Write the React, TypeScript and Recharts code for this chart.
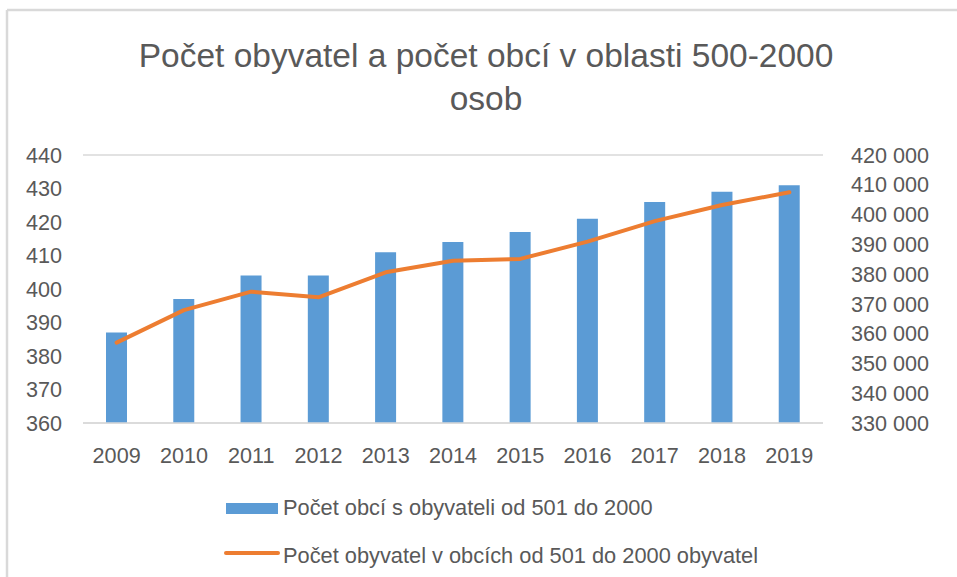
import React from 'react';
import { ComposedChart, Bar, Line, XAxis, YAxis, CartesianGrid } from 'recharts';

const years = ['2009', '2010', '2011', '2012', '2013', '2014', '2015', '2016', '2017', '2018', '2019'];
const municipalities = [387, 397, 404, 404, 411, 414, 417, 421, 426, 429, 431];
const inhabitants = [357000, 367900, 374100, 372200, 380600, 384500, 385100, 390900, 397800, 403200, 407500];
const leftTicks = [360, 370, 380, 390, 400, 410, 420, 430, 440];
const rightTicks = [330000, 340000, 350000, 360000, 370000, 380000, 390000, 400000, 410000, 420000];

const titleLines = ['Počet obyvatel a počet obcí v oblasti 500-2000', 'osob'];
const barName = 'Počet obcí s obyvateli od 501 do 2000';
const lineName = 'Počet obyvatel v obcích od 501 do 2000 obyvatel';

const data = years.map((y, i) => ({ year: y, obce: municipalities[i], obyv: inhabitants[i] }));

const FONT = '"Liberation Sans", Arial, sans-serif';
const TXT = '#595959';
const BLUE = '#5b9bd5';
const ORANGE = '#ed7d31';

const fmt = (v: number) => String(v).replace(/\B(?=(\d{3})+(?!\d))/g, ' ');

export default function App() {
  return (
    <div style={{ position: 'absolute', left: 0, top: 0, width: 957, height: 577, background: '#fff', overflow: 'hidden' }}>
      <ComposedChart
        width={957}
        height={577}
        data={data}
        margin={{ top: 155, right: 0, bottom: 124, left: 0 }}
        style={{ fontFamily: FONT }}
      >
        <CartesianGrid vertical={false} stroke="#d9d9d9" strokeWidth={1.5} />
        <XAxis
          dataKey="year"
          height={30}
          tickLine={false}
          axisLine={{ stroke: '#d9d9d9', strokeWidth: 1.5 }}
          tickSize={0}
          tickMargin={25}
          tick={{ fill: TXT, fontSize: 21.6 }}
          interval={0}
        />
        <YAxis
          yAxisId="left"
          orientation="left"
          width={83}
          domain={[360, 440]}
          ticks={leftTicks}
          tickLine={false}
          axisLine={false}
          tickSize={0}
          tickMargin={21}
          tick={{ fill: TXT, fontSize: 21.6 }}
          interval={0}
        />
        <YAxis
          yAxisId="right"
          orientation="right"
          width={134}
          domain={[330000, 420000]}
          ticks={rightTicks}
          tickFormatter={fmt}
          tickLine={false}
          axisLine={false}
          tickSize={0}
          tickMargin={28}
          tick={{ fill: TXT, fontSize: 21.6, textAnchor: 'start' }}
          interval={0}
        />
        <Bar yAxisId="left" dataKey="obce" name={barName} fill={BLUE} barSize={21} isAnimationActive={false} />
        <Line
          yAxisId="right"
          dataKey="obyv"
          name={lineName}
          stroke={ORANGE}
          strokeWidth={4}
          strokeLinecap="round"
          strokeLinejoin="round"
          dot={false}
          activeDot={false}
          type="linear"
          isAnimationActive={false}
        />
      </ComposedChart>
      <svg
        width={957}
        height={577}
        style={{ position: 'absolute', left: 0, top: 0, pointerEvents: 'none', fontFamily: FONT }}
      >
        <line x1={7} y1={10} x2={957} y2={10} stroke="#d9d9d9" strokeWidth={2.5} />
        <line x1={7} y1={10} x2={7} y2={577} stroke="#d9d9d9" strokeWidth={2.5} />
        <text x={486} y={67} textAnchor="middle" fontSize={33.5} fill={TXT}>{titleLines[0]}</text>
        <text x={486} y={110} textAnchor="middle" fontSize={33.5} fill={TXT}>{titleLines[1]}</text>
        <rect x={226} y={503} width={52} height={11} fill={BLUE} />
        <text x={283} y={515} fontSize={21.8} fill={TXT}>{barName}</text>
        <line x1={226} y1={553} x2={278} y2={553} stroke={ORANGE} strokeWidth={4} strokeLinecap="round" />
        <text x={283} y={563} fontSize={21.8} fill={TXT}>{lineName}</text>
      </svg>
    </div>
  );
}
